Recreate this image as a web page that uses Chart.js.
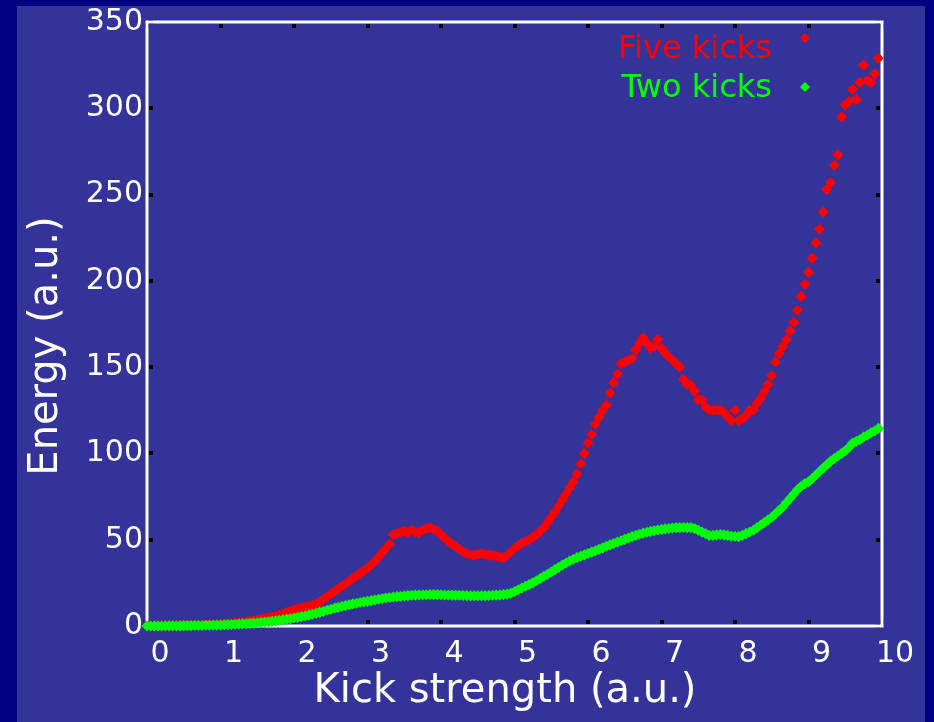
<!DOCTYPE html>
<html>
<head>
<meta charset="utf-8">
<title>Energy vs kick strength</title>
<script src="https://cdn.jsdelivr.net/npm/chart.js@4.4.1/dist/chart.umd.min.js"></script>
<style>
  html, body { margin: 0; padding: 0; background: #000080; }
  canvas { display: block; }
</style>
</head>
<body>
<canvas id="energyChart" width="934" height="722"></canvas>
<script>
// kick strength (a.u.), one sample every 0.05
const kickStrength = [
  0, 0.05, 0.1, 0.15, 0.2, 0.25, 0.3, 0.35, 0.4, 0.45, 0.5, 0.55, 0.6, 0.65, 0.7, 0.75, 0.8, 0.85, 0.9, 0.95,
  1, 1.05, 1.1, 1.15, 1.2, 1.25, 1.3, 1.35, 1.4, 1.45, 1.5, 1.55, 1.6, 1.65, 1.7, 1.75, 1.8, 1.85, 1.9, 1.95,
  2, 2.05, 2.1, 2.15, 2.2, 2.25, 2.3, 2.35, 2.4, 2.45, 2.5, 2.55, 2.6, 2.65, 2.7, 2.75, 2.8, 2.85, 2.9, 2.95,
  3, 3.05, 3.1, 3.15, 3.2, 3.25, 3.3, 3.35, 3.4, 3.45, 3.5, 3.55, 3.6, 3.65, 3.7, 3.75, 3.8, 3.85, 3.9, 3.95,
  4, 4.05, 4.1, 4.15, 4.2, 4.25, 4.3, 4.35, 4.4, 4.45, 4.5, 4.55, 4.6, 4.65, 4.7, 4.75, 4.8, 4.85, 4.9, 4.95,
  5, 5.05, 5.1, 5.15, 5.2, 5.25, 5.3, 5.35, 5.4, 5.45, 5.5, 5.55, 5.6, 5.65, 5.7, 5.75, 5.8, 5.85, 5.9, 5.95,
  6, 6.05, 6.1, 6.15, 6.2, 6.25, 6.3, 6.35, 6.4, 6.45, 6.5, 6.55, 6.6, 6.65, 6.7, 6.75, 6.8, 6.85, 6.9, 6.95,
  7, 7.05, 7.1, 7.15, 7.2, 7.25, 7.3, 7.35, 7.4, 7.45, 7.5, 7.55, 7.6, 7.65, 7.7, 7.75, 7.8, 7.85, 7.9, 7.95,
  8, 8.05, 8.1, 8.15, 8.2, 8.25, 8.3, 8.35, 8.4, 8.45, 8.5, 8.55, 8.6, 8.65, 8.7, 8.75, 8.8, 8.85, 8.9, 8.95,
  9, 9.05, 9.1, 9.15, 9.2, 9.25, 9.3, 9.35, 9.4, 9.45, 9.5, 9.55, 9.6, 9.65, 9.7, 9.75, 9.8, 9.85, 9.9, 9.95
];

// energy after five kicks
const fiveKicks = [
  0, 0, 0, 0, 0.1, 0.1, 0.1, 0.2, 0.2, 0.2, 0.3, 0.3, 0.4, 0.4, 0.5, 0.5, 0.6, 0.7, 0.8, 0.9,
  1.0, 1.1, 1.3, 1.5, 1.7, 1.9, 2.2, 2.5, 2.8, 3.1, 3.5, 3.9, 4.3, 4.8, 5.3, 5.9, 6.5, 7.2, 7.9, 8.6,
  9.4, 10.0, 10.6, 11.0, 11.5, 12.0, 12.5, 14.0, 15.5, 17.0, 18.5, 20.0, 21.5, 23.0, 24.5, 26.0, 27.5, 29.0, 30.5, 32.0,
  33.5, 35.5, 37.5, 40.0, 42.5, 45.0, 47.5, 53.0, 53.5, 54.5, 55.0, 54.0, 55.5, 54.5, 54.0, 55.5, 56.5, 57.0, 56.0, 55.0,
  53.0, 51.0, 49.0, 47.5, 46.0, 44.5, 43.0, 42.0, 41.5, 41.0, 41.5, 42.0, 41.5, 41.0, 41.0, 40.5, 40.0, 39.5, 41.0, 43.0,
  45.0, 46.5, 48.0, 49.0, 50.0, 51.5, 53.0, 55.0, 57.0, 60.0, 63.0, 66.0, 69.5, 73.0, 76.5, 80.0, 83.5, 88.0, 94.0, 100.0,
  106, 111, 117, 121, 125, 128, 135, 141, 146, 152, 153, 154, 155, 160, 164, 167, 164, 161, 162, 166,
  161, 158, 156, 154, 152, 150, 143, 140, 139.5, 136, 131, 131, 127, 125, 125, 125, 125, 124, 121, 119,
  125, 119, 120, 122, 125, 125, 129, 132, 136, 140, 145, 153, 158, 162, 166, 171, 176, 183, 191, 198,
  205, 213, 222, 230, 240, 253, 257, 267, 273, 295, 302, 304, 311, 305, 315, 325, 316, 315, 320, 329
];

// energy after two kicks
const twoKicks = [
  0, 0, 0, 0, 0, 0.1, 0.1, 0.1, 0.1, 0.1, 0.2, 0.2, 0.2, 0.3, 0.3, 0.3, 0.4, 0.4, 0.5, 0.5,
  0.6, 0.7, 0.8, 0.9, 1.0, 1.1, 1.2, 1.3, 1.5, 1.7, 1.9, 2.1, 2.3, 2.5, 2.7, 3.0, 3.3, 3.6, 3.9, 4.2,
  4.6, 5.0, 5.4, 5.8, 6.3, 6.8, 7.3, 7.9, 8.5, 9.1, 9.7, 10.3, 10.8, 11.3, 11.8, 12.3, 12.8, 13.2, 13.6, 14.0,
  14.3, 14.7, 15.1, 15.5, 15.8, 16.2, 16.5, 16.8, 17.0, 17.2, 17.4, 17.6, 17.8, 17.9, 18.0, 18.1, 18.1, 18.2, 18.2, 18.2,
  18.1, 18.0, 18.0, 17.9, 17.8, 17.8, 17.7, 17.6, 17.5, 17.5, 17.5, 17.5, 17.6, 17.7, 17.8, 17.9, 18.0, 18.2, 18.5, 19.0,
  20.0, 21.0, 22.0, 23.0, 24.0, 25.0, 26.2, 27.5, 28.8, 30.0, 31.3, 32.7, 34.0, 35.3, 36.5, 37.6, 38.7, 39.6, 40.4, 41.2,
  42.0, 42.8, 43.6, 44.5, 45.3, 46.2, 47.0, 47.8, 48.6, 49.4, 50.2, 51.0, 51.8, 52.5, 53.2, 53.8, 54.3, 54.8, 55.2, 55.6,
  56.0, 56.3, 56.5, 56.8, 57.0, 57.0, 57.1, 57.0, 57.0, 56.5, 55.5, 54.5, 53.5, 52.5, 52.5, 52.8, 53.0, 52.8, 52.5, 52.0,
  52.0, 51.8, 52.5, 53.5, 54.5, 55.5, 57.0, 58.5, 60.0, 61.5, 63.0, 65.0, 67.0, 69.0, 71.5, 74.0, 76.5, 79.0, 81.0, 82.5,
  83.5, 85.5, 87.5, 89.5, 91.5, 93.5, 95.5, 97.0, 98.5, 100.0, 101.5, 103.5, 106.0, 107.0, 108.0, 109.5, 110.5, 112.0, 113.0, 114.5
];

const xTicks = [0, 1, 2, 3, 4, 5, 6, 7, 8, 9, 10];
const yTicks = [0, 50, 100, 150, 200, 250, 300, 350];

const FONT = "'DejaVu Sans', 'Liberation Sans', sans-serif";

const toPoints = (ys) => kickStrength.map((x, i) => ({ x: x, y: ys[i] }));

// navy page with the lighter panel behind the plot
const backdrop = {
  id: "backdrop",
  beforeDraw(chart) {
    const ctx = chart.ctx;
    ctx.save();
    ctx.fillStyle = "#000080";
    ctx.fillRect(0, 0, chart.width, chart.height);
    ctx.fillStyle = "#333399";
    ctx.fillRect(17, 6, 908, chart.height - 6);
    ctx.restore();
  },
};

// white frame and small black tick squares on the inside edges
const frame = {
  id: "frame",
  beforeDatasetsDraw(chart) {
    const { ctx, chartArea: a, scales } = chart;
    ctx.save();
    ctx.fillStyle = "#000000";
    xTicks.forEach((v) => {
      const px = Math.round(scales.x.getPixelForValue(v));
      ctx.fillRect(px - 2, a.top + 2, 4, 4);
      ctx.fillRect(px - 2, a.bottom - 6, 4, 4);
    });
    yTicks.forEach((v) => {
      const py = Math.round(scales.y.getPixelForValue(v));
      ctx.fillRect(a.left + 2, py - 2, 4, 4);
      ctx.fillRect(a.right - 6, py - 2, 4, 4);
    });
    ctx.strokeStyle = "#ffffff";
    ctx.lineWidth = 3;
    ctx.strokeRect(a.left, a.top, a.right - a.left, a.bottom - a.top);
    ctx.restore();
  },
};

// axis titles and the legend in the top right corner
const labels = {
  id: "labels",
  afterDraw(chart) {
    const ctx = chart.ctx;
    ctx.save();
    ctx.fillStyle = "#ffffff";
    ctx.font = "40px " + FONT;
    ctx.textAlign = "center";
    ctx.textBaseline = "middle";
    ctx.fillText("Kick strength (a.u.)", 505, 692);
    ctx.translate(47, 346);
    ctx.rotate(-Math.PI / 2);
    ctx.fillText("Energy (a.u.)", 0, 0);
    ctx.restore();

    const items = [
      { text: "Five kicks", color: "#ff0000", baseline: 58, markY: 38 },
      { text: "Two kicks", color: "#00ff00", baseline: 97, markY: 87 },
    ];
    ctx.save();
    ctx.font = "32px " + FONT;
    ctx.textAlign = "right";
    ctx.textBaseline = "alphabetic";
    items.forEach((it) => {
      ctx.fillStyle = it.color;
      ctx.fillText(it.text, 772, it.baseline);
      const r = 5;
      ctx.beginPath();
      ctx.moveTo(805, it.markY - r);
      ctx.lineTo(805 + r, it.markY);
      ctx.lineTo(805, it.markY + r);
      ctx.lineTo(805 - r, it.markY);
      ctx.closePath();
      ctx.fill();
    });
    ctx.restore();
  },
};

new Chart(document.getElementById("energyChart"), {
  type: "scatter",
  data: {
    datasets: [
      {
        label: "Five kicks",
        data: toPoints(fiveKicks),
        backgroundColor: "#ff0000",
        borderColor: "#ff0000",
        order: 2,
      },
      {
        label: "Two kicks",
        data: toPoints(twoKicks),
        backgroundColor: "#00ff00",
        borderColor: "#00ff00",
        order: 1,
      },
    ],
  },
  options: {
    responsive: false,
    animation: false,
    layout: { padding: { left: 0, top: 22, right: 52, bottom: 0 } },
    elements: {
      point: { pointStyle: "rectRot", radius: 4.5, borderWidth: 1.5, hoverRadius: 4.5 },
    },
    datasets: { scatter: { clip: false } },
    plugins: {
      legend: { display: false },
      tooltip: { enabled: false },
    },
    scales: {
      x: {
        type: "linear",
        min: 0,
        max: 10,
        grid: { display: false, drawTicks: false },
        border: { display: false },
        afterBuildTicks: (s) => { s.ticks = xTicks.map((v) => ({ value: v })); },
        afterFit: (s) => { s.height = 96; },
        ticks: {
          color: "#ffffff",
          font: { family: FONT, size: 30 },
          padding: 10,
          labelOffset: 13,
          maxRotation: 0,
          autoSkip: false,
        },
      },
      y: {
        type: "linear",
        min: 0,
        max: 350,
        grid: { display: false, drawTicks: false },
        border: { display: false },
        afterBuildTicks: (s) => { s.ticks = yTicks.map((v) => ({ value: v })); },
        afterFit: (s) => { s.width = 147; },
        ticks: {
          color: "#ffffff",
          font: { family: FONT, size: 30 },
          padding: 4,
        },
      },
    },
  },
  plugins: [backdrop, frame, labels],
});
</script>
</body>
</html>
